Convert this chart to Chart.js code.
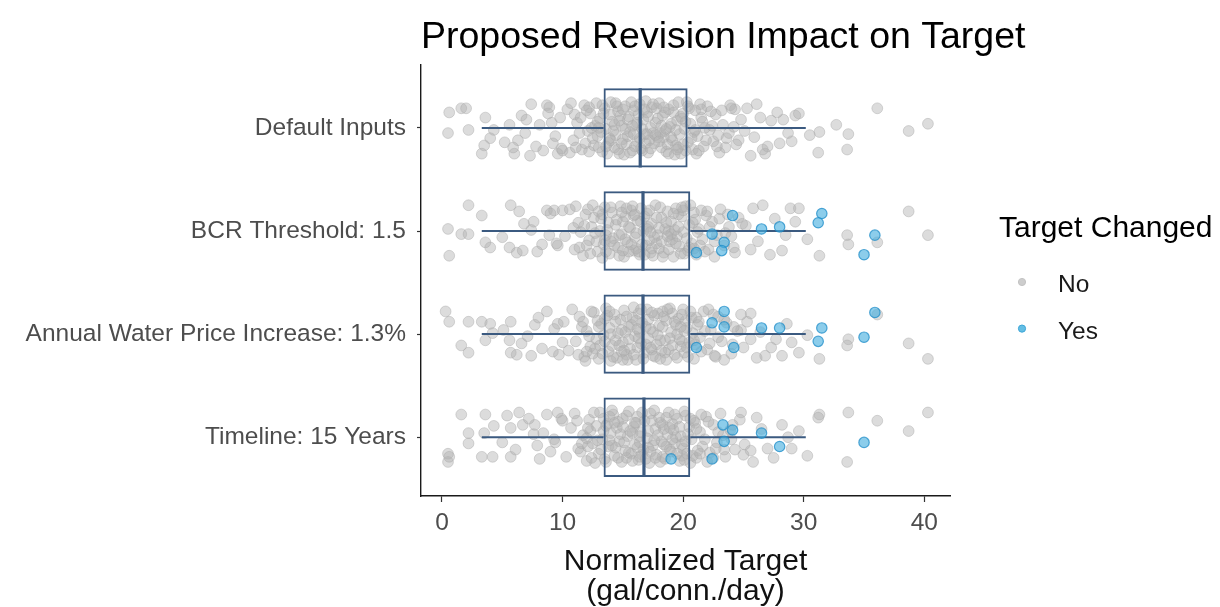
<!DOCTYPE html>
<html>
<head>
<meta charset="utf-8">
<title>Proposed Revision Impact on Target</title>
<script src="https://cdn.jsdelivr.net/npm/chart.js@4.4.1/dist/chart.umd.min.js"></script>
<style>
  html, body { margin: 0; padding: 0; background: #ffffff; }
  canvas { display: block; }
</style>
</head>
<body>
<canvas id="chart" width="1220" height="607"></canvas>
<script>
// ---- data ---------------------------------------------------------------
const chartTitle = 'Proposed Revision Impact on Target';
const categories = ['Default Inputs', 'BCR Threshold: 1.5', 'Annual Water Price Increase: 1.3%', 'Timeline: 15 Years'];
const xTicks = [0, 10, 20, 30, 40];
const xTitle = ['Normalized Target', '(gal/conn./day)'];
const legendTitle = 'Target Changed';
const legendLabels = ['No', 'Yes'];

// box-plot summaries per scenario
const q1 = [13.4, 13.4, 13.4, 13.4];
const median = [16.44, 16.67, 16.67, 16.75];
const q3 = [20.37, 20.59, 20.59, 20.59];
const whiskerLow = [3.3, 3.3, 3.3, 3.3];
const whiskerHigh = [30.17, 30.17, 30.17, 30.17];

// observations: [normalized target, vertical jitter within the row]
const defaultNo = [
  [0.6,-.15],[1.6,-.19],[2.0,-.19],[0.5,.05],[2.2,.02],[3.6,-.10],[7.4,-.23],[8.7,-.22],[6.6,-.12],[4.3,.02],
  [5.6,-.03],[8.1,-.03],[3.5,.17],[3.3,.25],[6.0,.25],[7.3,.27],[9.6,.25],[10.6,.24],[4.0,.10],[6.3,.12],
  [36.1,-.19],[38.7,.03],[40.3,-.04],[31.3,.04],[32.7,-.03],[33.7,.06],[31.2,.24],[33.6,.21],[30.5,.07],[29.3,-.12],
  [28.3,-.08],[27.3,-.07],[29.0,.13],[28.0,.15],[26.8,.25],[25.6,.27],[26.1,-.23],[25.3,-.19],[23.9,-.22],
  [5.2,.14],[6.9,.05],[7.8,.18],[8.4,.22],[9.1,-.05],[9.4,.08],[7.0,-.08],[5.9,.19],[8.8,-.14],[9.9,.20],
  [24.6,.12],[25.1,.03],[25.9,.09],[26.4,-.10],[27.0,.18],[27.8,-.15],[28.7,.05],[29.6,-.14],[24.3,-.18],[26.6,.21],
  [10.4,-.18],[10.9,.12],[11.2,-.05],[11.6,.21],[11.8,-.22],[12.1,.03],[12.3,-.14],[12.6,.17],[12.8,-.24],[12.9,.08],
  [13.1,-.09],[13.3,.23],[13.5,-.19],[13.6,.01],[13.8,.14],[14.0,-.25],[14.1,-.06],[14.3,.19],[14.4,.07],[14.6,-.16],
  [14.7,.25],[14.9,-.02],[15.0,.11],[15.2,-.21],[15.3,.16],[15.5,-.11],[15.6,.04],[15.8,.22],[15.9,-.17],[16.1,-.03],
  [16.2,.13],[16.4,-.23],[16.5,.20],[16.7,-.08],[16.8,.06],[17.0,-.15],[17.1,.24],[17.3,.00],[17.4,-.20],[17.6,.15],
  [17.7,-.05],[17.9,.09],[18.0,-.24],[18.2,.19],[18.3,-.12],[18.5,.03],[18.6,.23],[18.8,-.18],[18.9,-.01],[19.1,.12],
  [19.2,-.22],[19.4,.17],[19.5,-.07],[19.7,.06],[19.8,.25],[20.0,-.14],[20.1,.01],[20.3,-.25],[20.4,.14],[20.6,-.04],
  [20.8,.21],[21.0,-.17],[21.2,.08],[21.5,-.10],[21.7,.18],[22.0,-.21],[22.2,.02],[22.5,.13],[22.7,-.13],[23.0,.24],
  [23.3,-.03],[23.6,.10],[24.0,-.19],[24.4,.16],[24.8,-.08],[13.9,.10],[15.1,.26],[16.9,-.26],[18.4,.09],[19.9,-.09],
  [12.4,.00],[14.8,-.12],[17.5,.05],[19.3,.26],[21.1,.25],[11.4,.05],[9.8,-.10],[9.2,.15],[8.9,-.20],[22.9,.07],
  [10.0,.22],[10.7,-.24],[11.0,-.13],[11.9,.15],[12.2,-.20],[12.7,-.02],[13.0,.19],[13.4,-.14],[13.7,.25],[14.2,.03],
  [14.5,-.21],[15.4,.08],[15.7,-.25],[16.0,.18],[16.3,-.13],[16.6,.01],[17.2,.12],[17.8,-.19],[18.1,.05],[18.7,.16],
  [19.0,-.04],[19.6,-.25],[20.2,.22],[20.5,-.19],[20.9,.04],[21.4,-.23],[21.8,.00],[22.3,-.16],[23.5,.19],[24.2,-.01],
  [11.5,-.10],[11.1,.19],[12.0,-.17],[12.5,.10],[12.9,-.06],[13.2,.04],[13.3,-.22],[13.6,.18],[13.9,-.13],[14.0,.12],
  [14.3,-.03],[14.4,-.24],[14.6,.21],[14.9,.15],[15.0,-.18],[15.2,.01],[15.4,-.08],[15.6,.24],[15.9,.06],[16.0,-.21],
  [16.2,-.05],[16.4,.10],[16.6,.22],[16.8,-.18],[16.9,.15],[17.1,-.11],[17.3,.20],[17.5,-.23],[17.7,.07],[17.9,-.09],
  [18.0,.13],[18.2,-.02],[18.4,-.20],[18.6,.01],[18.8,.25],[19.0,.09],[19.2,-.15],[19.4,.02],[19.6,.19],[19.8,-.11],
  [20.0,.16],[20.2,-.06],[20.4,-.21],[20.7,.10],[21.0,.02],[21.3,.22],[21.6,-.06],[21.9,.12],[22.4,-.02],[22.8,.18],
  [23.2,-.17],[23.8,.05],[12.2,.23],[13.0,.00],[14.7,-.07],[15.8,-.02],[17.0,.06],[18.5,-.15],[19.5,.21],[21.5,-.18]
];
const bcrNo = [
  [0.5,-.02],[0.6,.24],[1.6,.03],[2.2,.03],[2.2,-.25],[3.3,-.15],[3.6,.11],[4.0,.16],[5.7,-.25],[6.4,-.19],
  [5.6,.16],[6.2,.21],[6.7,.19],[7.6,-.09],[8.3,.13],[8.7,-.20],[9.3,-.20],[10.0,-.20],[7.4,-.01],
  [38.7,-.19],[40.3,.04],[33.6,.04],[33.7,.13],[36.1,.11],[31.3,.24],[30.3,.08],[29.3,-.09],[28.9,-.22],[29.6,-.22],
  [25.8,-.22],[26.6,-.25],[27.2,.23],[25.6,.18],[28.5,.04],[24.9,-.07],
  [5.0,.06],[6.8,-.07],[7.9,.20],[8.9,.04],[9.6,.14],[24.2,.16],[25.2,-.05],[26.2,.10],[27.6,-.12],[28.2,.19],
  [10.2,.05],[10.6,-.21],[11.0,.18],[11.3,-.08],[11.7,.24],[11.9,-.16],[12.2,.09],[12.5,-.25],[12.7,.02],[12.9,.20],
  [13.2,-.12],[13.4,.13],[13.5,-.23],[13.7,-.01],[13.9,.22],[14.1,-.18],[14.2,.07],[14.4,-.06],[14.6,.16],[14.8,-.24],
  [14.9,.03],[15.1,.25],[15.2,-.14],[15.4,.11],[15.6,-.03],[15.7,-.20],[15.9,.19],[16.0,.06],[16.2,-.10],[16.4,.23],
  [16.5,-.22],[16.7,.00],[16.9,.14],[17.0,-.17],[17.2,.09],[17.4,-.07],[17.5,.24],[17.7,-.25],[17.9,.04],[18.0,.17],
  [18.2,-.13],[18.4,.21],[18.5,-.02],[18.7,-.19],[18.9,.10],[19.0,-.09],[19.2,.25],[19.4,-.22],[19.5,.05],[19.7,.15],
  [19.9,-.14],[20.0,.01],[20.2,-.24],[20.4,.19],[20.5,-.06],[20.7,.12],[20.9,-.18],[21.1,.23],[21.3,-.02],[21.6,.08],
  [21.9,-.15],[22.1,.18],[22.4,-.09],[22.8,.04],[23.1,-.21],[23.4,.14],[23.8,-.04],[24.3,.21],[24.6,-.13],[10.9,-.03],
  [12.0,.14],[13.0,-.19],[14.0,.10],[15.0,-.09],[16.1,.17],[17.1,-.04],[18.1,-.23],[19.1,.08],[20.1,.22],[21.0,-.11],
  [9.5,.12],[9.0,-.17],[11.5,.01],[22.6,.25],[23.7,-.16],[12.4,-.04],[13.6,.04],[15.5,.20],[17.8,.12],[19.6,-.16],
  [14.7,.24],[16.8,-.14],[18.8,.00],[20.6,-.25],[13.3,.26],[15.8,-.24],[17.3,.21],[19.3,-.01],[21.4,.14],[11.1,-.24],
  [11.4,.16],[11.8,-.05],[12.3,.22],[12.6,-.13],[12.8,.10],[13.1,.00],[13.3,-.16],[13.6,.20],[13.8,-.08],[14.0,-.23],
  [14.3,.14],[14.5,-.11],[14.7,.04],[15.0,.19],[15.2,.08],[15.3,-.22],[15.5,-.04],[15.7,.13],[15.9,-.15],[16.1,.02],
  [16.3,.20],[16.5,-.09],[16.6,.13],[16.8,.23],[17.0,-.02],[17.2,-.20],[17.4,.17],[17.6,.06],[17.8,-.13],[18.0,-.03],
  [18.2,.10],[18.3,.25],[18.6,-.08],[18.8,.18],[19.0,.03],[19.2,-.17],[19.4,.12],[19.6,-.04],[19.8,.22],[20.0,-.20],
  [20.3,.07],[20.5,.16],[20.8,-.08],[21.2,.01],[21.5,-.20],[21.8,.20],[22.2,-.04],[22.6,.10],[23.0,-.12],[23.5,.02],
  [12.1,-.21],[13.5,.09],[14.9,-.18],[16.0,-.16],[17.3,.01],[18.7,.05],[19.9,-.23],[20.9,.17],[22.0,-.19],[24.0,.05]
];
const priceNo = [
  [0.3,-.22],[0.6,-.12],[2.2,-.12],[3.3,-.12],[1.6,.11],[2.2,.18],[3.6,.06],[4.2,-.01],[4.0,-.10],[5.7,-.12],
  [5.6,.06],[5.7,.18],[6.6,.09],[7.4,.21],[7.7,-.09],[8.3,.14],[8.7,-.22],[9.6,-.10],[10.0,.08],
  [36.1,-.19],[38.7,.09],[40.3,.24],[33.7,.05],[33.6,.11],[31.3,.24],[30.3,.01],[29.6,.18],[29.0,.08],[28.2,.21],
  [25.6,-.20],[25.6,.05],[26.1,.23],[27.3,.13],[26.8,.21],[24.8,-.04],
  [5.1,-.04],[6.2,.20],[7.1,.02],[8.0,-.16],[9.2,.17],[24.1,.10],[25.3,-.12],[26.4,-.02],[27.7,.05],[28.6,-.10],
  [10.1,-.12],[10.5,.16],[10.8,-.24],[11.1,.07],[11.4,-.17],[11.8,.22],[12.0,-.03],[12.3,.12],[12.6,-.21],[12.8,.05],
  [13.0,.24],[13.2,-.10],[13.4,.01],[13.6,-.25],[13.8,.17],[13.9,-.06],[14.1,.11],[14.3,-.19],[14.5,.23],[14.6,-.01],
  [14.8,-.14],[15.0,.08],[15.1,-.23],[15.3,.20],[15.5,-.07],[15.6,.14],[15.8,-.16],[16.0,.02],[16.1,.25],[16.3,-.20],
  [16.5,.09],[16.6,-.11],[16.8,.18],[17.0,-.24],[17.1,.04],[17.3,-.05],[17.5,.21],[17.6,-.18],[17.8,.10],[18.0,-.08],
  [18.1,.24],[18.3,-.22],[18.5,.06],[18.6,-.13],[18.8,.15],[19.0,-.02],[19.1,-.20],[19.3,.20],[19.5,.00],[19.6,-.15],
  [19.8,.12],[20.0,-.24],[20.1,.18],[20.3,-.06],[20.5,.08],[20.7,-.16],[20.9,.24],[21.2,-.09],[21.4,.03],[21.7,-.22],
  [22.0,.15],[22.3,-.04],[22.6,.21],[22.9,-.17],[23.2,.07],[23.6,-.11],[24.0,.19],[24.5,-.03],[25.0,.13],[11.6,-.07],
  [12.5,.19],[13.5,-.15],[14.4,.06],[15.4,.25],[16.4,-.02],[17.4,.15],[18.4,-.17],[19.4,-.09],[20.4,.22],[21.0,.10],
  [9.3,-.05],[9.7,.20],[22.1,-.24],[23.4,.25],[24.8,-.19],[12.9,-.13],[14.0,.26],[15.9,-.26],[17.9,.01],[19.9,.07],
  [13.1,.11],[15.2,-.02],[16.9,-.07],[18.9,-.25],[20.8,-.01],[14.9,.17],[16.2,.13],[18.2,.16],[20.2,-.13],[11.9,.26],
  [11.3,.20],[11.7,-.12],[12.2,.02],[12.4,-.22],[12.7,.14],[13.0,-.07],[13.3,.19],[13.5,.07],[13.7,-.18],[14.0,.00],
  [14.2,.22],[14.4,-.12],[14.7,.11],[14.9,-.04],[15.1,.16],[15.3,-.17],[15.5,.05],[15.7,-.09],[15.9,.20],[16.1,-.13],
  [16.3,.04],[16.5,-.24],[16.7,.24],[16.9,.10],[17.1,-.14],[17.3,.13],[17.5,-.02],[17.7,.22],[17.9,-.20],[18.1,.06],
  [18.3,-.07],[18.5,.18],[18.7,-.24],[18.9,.04],[19.1,.11],[19.3,-.12],[19.5,.23],[19.7,.05],[19.9,-.19],[20.1,-.03],
  [20.3,.13],[20.6,-.22],[20.9,.06],[21.1,-.16],[21.5,.17],[21.8,-.03],[22.2,.09],[22.5,-.19],[22.9,.03],[23.4,-.14],
  [12.0,.17],[13.9,-.22],[15.0,.25],[16.2,-.05],[17.4,-.21],[18.6,.25],[19.8,-.07],[21.3,-.12],[22.7,.22],[24.2,-.07]
];
const timelineNo = [
  [1.6,-.22],[3.6,-.22],[0.5,.16],[0.5,.24],[0.6,.19],[2.2,-.04],[2.2,.06],[3.5,-.04],[3.3,.19],[4.2,.19],
  [4.3,-.11],[5.7,.19],[5.4,-.21],[6.4,-.24],[6.7,-.12],[5.7,-.09],[7.6,-.03],[7.7,-.12],[8.4,-.04],[8.7,-.22],
  [9.6,-.24],[8.1,.21],[9.0,.14],[10.0,-.16],
  [31.3,-.22],[31.2,-.19],[33.7,-.24],[36.1,-.16],[40.3,-.24],[38.7,-.06],[33.6,.24],[30.3,.18],[29.0,.11],[29.6,-.06],
  [28.2,-.12],[25.8,.24],[25.6,.13],[26.1,-.19],[27.0,.11],[24.8,-.24],
  [5.0,.05],[6.1,.12],[7.2,-.18],[7.9,.08],[9.3,.02],[24.0,.02],[25.0,.17],[26.5,-.08],[27.5,.20],[28.7,.00],
  [10.3,.19],[10.7,-.09],[11.0,-.23],[11.3,.11],[11.7,-.02],[12.0,.23],[12.2,-.17],[12.5,.06],[12.8,-.11],[13.0,.16],
  [13.1,-.24],[13.3,.02],[13.5,.21],[13.7,-.13],[13.8,.09],[14.0,-.04],[14.2,-.22],[14.3,.18],[14.5,-.09],[14.7,.04],
  [14.9,.24],[15.0,-.18],[15.2,.13],[15.4,-.01],[15.5,-.25],[15.7,.16],[15.9,-.10],[16.0,.07],[16.2,-.20],[16.3,.22],
  [16.5,-.05],[16.7,.12],[16.8,-.16],[17.0,.01],[17.2,.25],[17.3,-.23],[17.5,.08],[17.7,-.08],[17.8,.17],[18.0,-.19],
  [18.2,.04],[18.3,-.12],[18.5,.21],[18.7,-.03],[18.8,-.24],[19.0,.14],[19.2,-.07],[19.3,.06],[19.5,-.18],[19.7,.23],
  [19.8,-.01],[20.0,.11],[20.2,-.21],[20.3,.16],[20.5,-.10],[20.7,.02],[20.9,-.16],[21.1,.20],[21.4,-.05],[21.6,.09],
  [21.9,-.20],[22.2,.15],[22.5,-.12],[22.8,.05],[23.1,-.23],[23.5,.19],[23.9,-.07],[24.3,.12],[24.7,-.17],[11.5,.14],
  [12.3,-.06],[13.4,-.18],[14.4,.10],[15.3,.20],[16.1,-.14],[17.1,.10],[18.1,.24],[19.1,-.13],[20.1,-.25],[21.2,.13],
  [9.4,.05],[9.9,-.18],[22.0,.24],[23.3,-.02],[25.1,.07],[12.7,.25],[14.6,-.15],[16.6,.17],[18.6,.09],[19.9,.18],
  [13.9,.03],[15.8,-.04],[17.6,-.26],[19.4,.00],[21.0,-.14],[12.1,.09],[14.1,-.26],[16.4,.05],[18.4,-.08],[20.6,.25],
  [11.2,-.16],[11.6,.06],[12.1,-.09],[12.4,.20],[12.6,-.24],[12.9,.03],[13.2,.12],[13.4,-.06],[13.6,.24],[13.9,-.20],
  [14.1,.08],[14.3,-.14],[14.6,.20],[14.8,-.03],[15.1,.05],[15.3,-.21],[15.5,.15],[15.6,-.06],[15.8,.23],[16.0,-.14],
  [16.2,.10],[16.4,-.01],[16.6,-.24],[16.9,.21],[17.1,-.06],[17.3,.14],[17.4,-.16],[17.6,.03],[17.9,-.02],[18.1,-.14],
  [18.3,.19],[18.4,.07],[18.6,-.19],[18.9,.12],[19.1,.02],[19.3,-.22],[19.5,.16],[19.7,-.10],[19.9,.07],[20.1,.22],
  [20.4,-.03],[20.6,-.18],[20.8,.18],[21.1,-.08],[21.4,.16],[21.8,.02],[22.1,-.15],[22.5,.20],[22.9,-.05],[23.4,.12],
  [12.0,.01],[13.6,-.11],[15.0,-.10],[16.4,.19],[17.7,.20],[18.9,-.09],[20.2,.04],[21.5,-.22],[22.7,.11],[24.1,-.12]
];
const defaultYes = [];
const bcrYes = [
  [24.1,-.15],[22.4,.03],[23.4,.11],[23.2,.19],[21.1,.21],[26.5,-.02],[28.0,-.04],[31.5,-.17],[31.2,-.08],[35.9,.04],[35.0,.23]
];
const priceYes = [
  [23.4,-.22],[22.4,-.11],[23.4,-.07],[26.5,-.06],[28.0,-.06],[31.5,-.06],[31.2,.07],[35.9,-.21],[35.0,.03],[24.2,.13],[21.1,.13]
];
const timelineYes = [
  [23.3,-.12],[24.1,-.07],[23.4,.04],[26.5,-.04],[28.0,.09],[35.0,.05],[22.4,.21],[19.0,.21]
];

// ---- chart --------------------------------------------------------------
const FONT = '"Liberation Sans", Arial, Helvetica, sans-serif';
Chart.defaults.font.family = FONT;

const noColor = 'rgba(178,178,178,0.45)';
const noEdge = 'rgba(168,168,168,0.45)';
const yesColor = 'rgba(70,175,222,0.62)';
const yesEdge = 'rgba(30,140,200,0.75)';
const boxColor = '#3b5a80';

const toPoints = groups => groups.flatMap((rows, i) => rows.map(([x, j]) => ({ x, y: i + j })));

const whiskerData = categories.flatMap((_, i) => [
  { x: whiskerLow[i], y: i }, { x: q1[i], y: i }, { x: q1[i], y: null },
  { x: q3[i], y: i }, { x: whiskerHigh[i], y: i }, { x: whiskerHigh[i], y: null }
]);
const BOX_HALF = 0.385;
const medianData = categories.flatMap((_, i) => [
  { x: median[i], y: i - BOX_HALF }, { x: median[i], y: i + BOX_HALF }, { x: median[i], y: null }
]);

const legendKey = {
  id: 'legendKey',
  afterDraw(chart) {
    const { ctx, chartArea } = chart;
    ctx.save();
    ctx.textAlign = 'left';
    ctx.textBaseline = 'alphabetic';
    // plot title, left-aligned with the panel
    ctx.fillStyle = '#000000';
    ctx.font = '37.5px ' + FONT;
    ctx.fillText(chartTitle, chartArea.left, 48);
    // legend
    const kx = chartArea.right + 49;
    ctx.font = '30px ' + FONT;
    ctx.fillStyle = '#000000';
    ctx.fillText(legendTitle, kx, 237);
    const dots = [['rgba(205,205,205,1)', 'rgba(195,195,195,1)'], ['rgba(100,190,228,1)', 'rgba(60,165,215,1)']];
    legendLabels.forEach((label, i) => {
      const cy = 282 + i * 46.6;
      ctx.beginPath();
      ctx.arc(kx + 23, cy, 3.6, 0, Math.PI * 2);
      ctx.fillStyle = dots[i][0];
      ctx.fill();
      ctx.lineWidth = 1;
      ctx.strokeStyle = dots[i][1];
      ctx.stroke();
      ctx.font = '24.5px ' + FONT;
      ctx.fillStyle = '#1a1a1a';
      ctx.fillText(label, kx + 59, cy + 10);
    });
    ctx.restore();
  }
};

new Chart(document.getElementById('chart'), {
  type: 'scatter',
  data: {
    datasets: [
      {
        label: legendLabels[1],
        data: toPoints([defaultYes, bcrYes, priceYes, timelineYes]),
        backgroundColor: yesColor,
        borderColor: yesEdge,
        borderWidth: 1.2,
        pointRadius: 5.2
      },
      {
        label: 'median',
        data: medianData,
        showLine: true,
        spanGaps: false,
        borderColor: boxColor,
        borderWidth: 3.2,
        pointRadius: 0,
        tension: 0
      },
      {
        label: 'whiskers',
        data: whiskerData,
        showLine: true,
        spanGaps: false,
        borderColor: boxColor,
        borderWidth: 2,
        pointRadius: 0,
        tension: 0
      },
      {
        type: 'bar',
        label: 'box',
        indexAxis: 'y',
        data: categories.map((_, i) => ({ x: [q1[i], q3[i]], y: i })),
        backgroundColor: 'rgba(0,0,0,0)',
        borderColor: boxColor,
        borderWidth: 2,
        borderSkipped: false,
        barPercentage: 1,
        categoryPercentage: BOX_HALF * 2
      },
      {
        label: legendLabels[0],
        data: toPoints([defaultNo, bcrNo, priceNo, timelineNo]),
        backgroundColor: noColor,
        borderColor: noEdge,
        borderWidth: 1,
        pointRadius: 5.4
      }
    ]
  },
  options: {
    responsive: false,
    devicePixelRatio: 1,
    animation: false,
    layout: { padding: { top: 65, right: 270, left: 0, bottom: 0 } },
    plugins: {
      legend: { display: false },
      title: { display: false },
      tooltip: { enabled: false }
    },
    scales: {
      x: {
        type: 'linear',
        min: -1.74,
        max: 42.13,
        offset: false,
        afterBuildTicks: s => { s.ticks = xTicks.map(v => ({ value: v })); },
        afterFit: s => { s.height = 111; },
        ticks: { font: { size: 24.5 }, color: '#4d4d4d', padding: 7, maxRotation: 0 },
        grid: { drawOnChartArea: false, offset: false, tickLength: 6, color: '#333333', tickWidth: 1.2 },
        border: { color: '#1a1a1a', width: 1.4 },
        title: {
          display: true,
          text: xTitle,
          color: '#111111',
          font: { size: 30, lineHeight: 1.0 },
          padding: { top: 0, bottom: 0 }
        }
      },
      y: {
        type: 'linear',
        reverse: true,
        min: -0.61,
        max: 3.57,
        offset: false,
        afterBuildTicks: s => { s.ticks = categories.map((_, i) => ({ value: i })); },
        afterFit: s => { s.width = 421; },
        ticks: {
          font: { size: 24.5 },
          color: '#4d4d4d',
          padding: 11,
          autoSkip: false,
          callback: v => categories[v]
        },
        grid: { drawOnChartArea: false, offset: false, tickLength: 4, color: '#333333', tickWidth: 1.2 },
        border: { color: '#1a1a1a', width: 1.4 }
      }
    }
  },
  plugins: [legendKey]
});
</script>
</body>
</html>
